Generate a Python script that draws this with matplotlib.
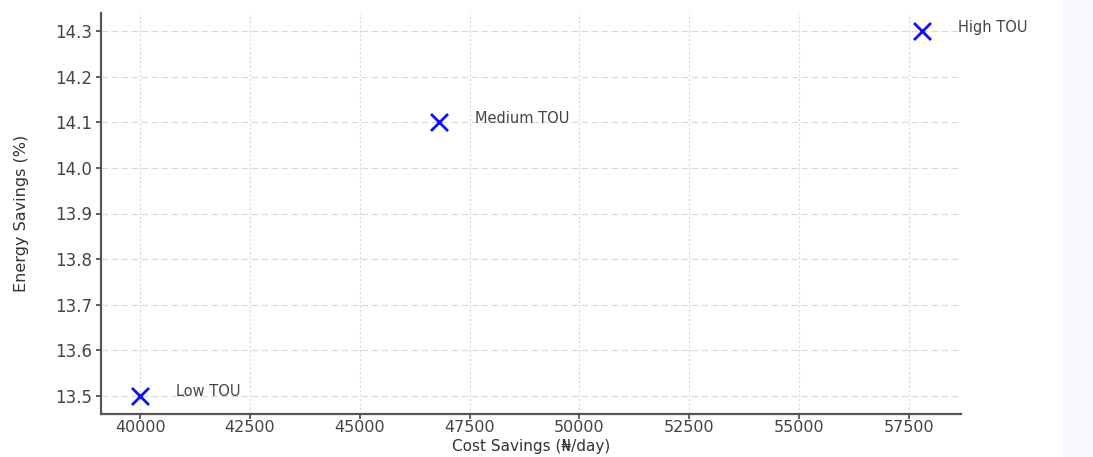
import matplotlib
matplotlib.use("Agg")
import matplotlib.pyplot as plt
from matplotlib.patches import Rectangle

# Data
scenarios = ["Low TOU", "Medium TOU", "High TOU"]
cost_savings = [40000, 46800, 57800]      # ₦/day
energy_savings = [13.5, 14.1, 14.3]       # %

plt.rcParams['font.family'] = ['DejaVu Sans']

fig = plt.figure(figsize=(10.93, 4.57), dpi=100)
fig.patch.set_facecolor("white")
fig.patches.append(Rectangle((1062 / 1093, 0), 31 / 1093, 1, transform=fig.transFigure,
                             facecolor="#f7f9fd", edgecolor="none", zorder=0))

ax = fig.add_axes([101 / 1093, 1 - 414 / 457, (961 - 101) / 1093, (414 - 13) / 457])
ax.set_facecolor("white")

ax.scatter(cost_savings, energy_savings, marker="x", s=150, color="#1010f0",
           linewidths=2, zorder=3)
for name, x, y in zip(scenarios, cost_savings, energy_savings):
    ax.annotate(name, (x, y), xytext=(26, 3), textcoords="offset points",
                fontsize=10.5, color="#444444", va="center")

ax.set_xlabel("Cost Savings (₦/day)", fontsize=11, color="#333333")
ax.set_ylabel("Energy Savings (%)", fontsize=11.5, color="#333333")
ax.xaxis.set_label_coords(0.5, -(446 - 414) / 401, transform=ax.transAxes)
ax.xaxis.label.set_va("center")
ax.yaxis.set_label_coords(-(101 - 21) / 860, 0.5)
ax.yaxis.label.set_va("center")

ax.set_xticks([40000, 42500, 45000, 47500, 50000, 52500, 55000, 57500])
ax.set_yticks([13.5, 13.6, 13.7, 13.8, 13.9, 14.0, 14.1, 14.2, 14.3])
ax.tick_params(axis="both", labelsize=12, colors="#444444", length=3.5, width=1.2)
ax.tick_params(axis="x", labelsize=11.5, pad=0.5)
ax.tick_params(axis="y", pad=3)

for s in ["top", "right"]:
    ax.spines[s].set_visible(False)
for s in ["left", "bottom"]:
    ax.spines[s].set_color("#555555")
    ax.spines[s].set_linewidth(1.6)

ax.xaxis.grid(True, color="#d8d8d8", linestyle=(0, (2, 2)), linewidth=0.8)
ax.yaxis.grid(True, color="#d8d8d8", linestyle=(0, (6, 3)), linewidth=0.8)
ax.set_axisbelow(True)

fig.savefig("out.png", dpi=100)
